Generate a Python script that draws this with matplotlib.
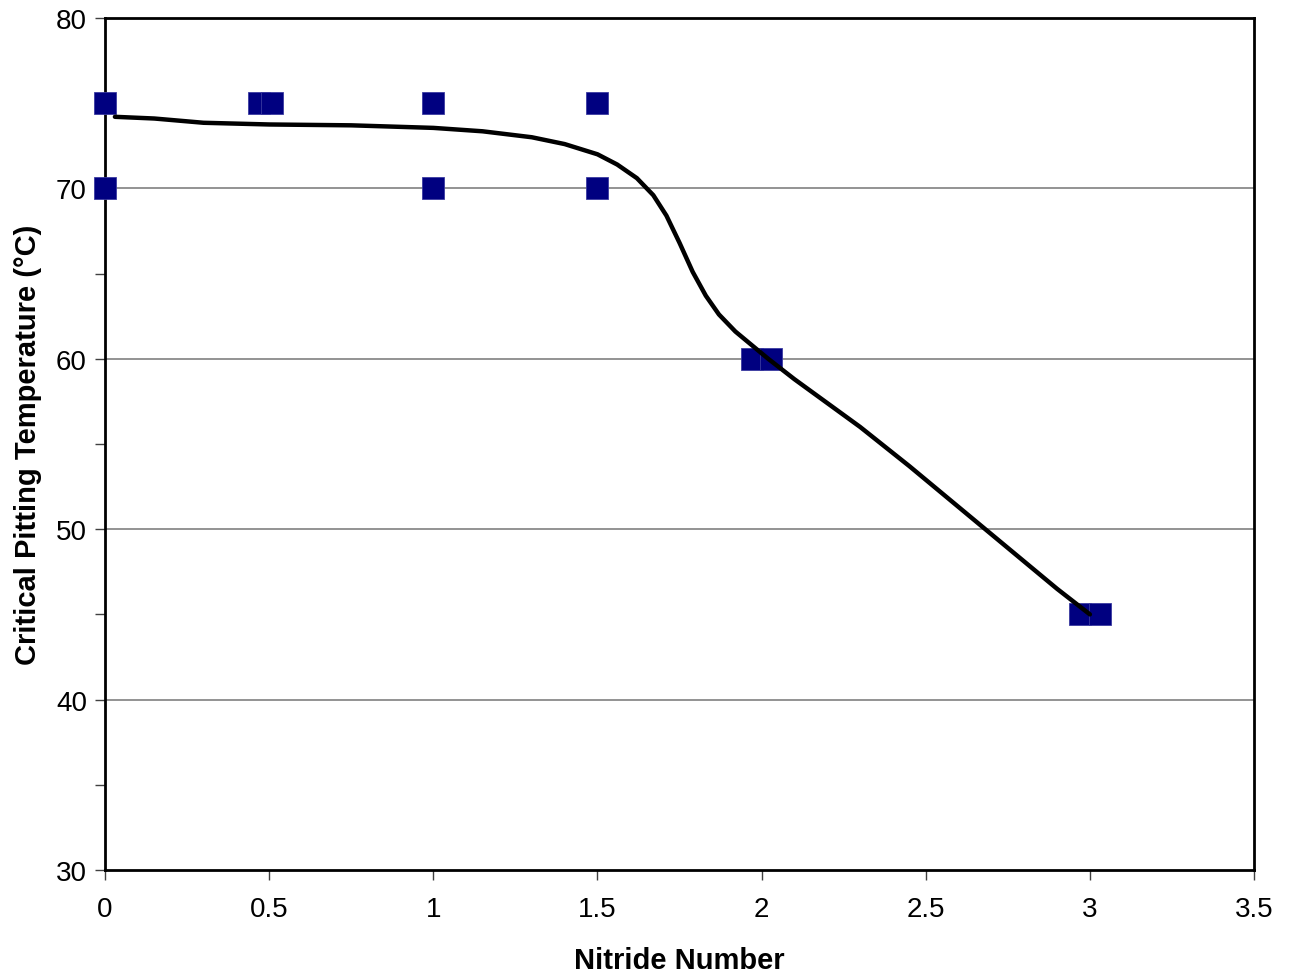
import numpy as np
import matplotlib.pyplot as plt
from matplotlib.ticker import MultipleLocator

plt.rcParams['font.family'] = ['Liberation Sans', 'DejaVu Sans']

# measured points (Nitride Number, CPT degC)
nitride = [0.0, 0.0, 0.47, 0.51, 1.0, 1.0, 1.5, 1.5, 1.97, 2.03, 2.97, 3.03]
cpt = [75, 70, 75, 75, 75, 70, 75, 70, 60, 60, 45, 45]

x_ticks = [0, 0.5, 1, 1.5, 2, 2.5, 3, 3.5]
x_labels = ['0', '0.5', '1', '1.5', '2', '2.5', '3', '3.5']

# trend curve
trend_x = [0.03, 0.15, 0.3, 0.5, 0.75, 1.0, 1.15, 1.3, 1.4, 1.5, 1.56, 1.62,
           1.67, 1.71, 1.75, 1.79, 1.83, 1.87, 1.92, 1.97, 2.02, 2.1, 2.2,
           2.3, 2.45, 2.6, 2.75, 2.9, 3.0]
trend_y = [74.2, 74.1, 73.85, 73.75, 73.7, 73.55, 73.35, 73.0, 72.6, 72.0, 71.4, 70.6,
           69.6, 68.4, 66.8, 65.1, 63.7, 62.6, 61.6, 60.8, 60.0, 58.8, 57.4,
           56.0, 53.7, 51.3, 48.9, 46.5, 45.0]

fig = plt.figure(figsize=(12.89, 9.78), dpi=100)
ax = fig.add_axes([0.0815, 0.1094, 0.8914, 0.8712])

ax.set_xlim(0, 3.5)
ax.set_ylim(30, 80)
ax.set_xticks(x_ticks)
ax.set_xticklabels(x_labels)
ax.yaxis.set_major_locator(MultipleLocator(10))
ax.yaxis.set_minor_locator(MultipleLocator(5))

for y in [40, 50, 60, 70]:
    ax.axhline(y, color='#808080', lw=1.2, zorder=1)

ax.plot(nitride, cpt, 's', color='#000080', markersize=16, markeredgewidth=0.6,
        markeredgecolor='#3a3aa0', linestyle='none', zorder=3, clip_on=False)
ax.plot(trend_x, trend_y, color='black', lw=3.2, solid_capstyle='round',
        solid_joinstyle='round', zorder=4)

for s in ax.spines.values():
    s.set_linewidth(2.0)

ax.tick_params(axis='both', which='major', direction='out', length=7, width=1,
               labelsize=20, color='#404040')
ax.tick_params(axis='x', which='major', pad=12)
ax.tick_params(axis='y', which='major', pad=6)
ax.tick_params(axis='y', which='minor', direction='out', length=7, width=1, color='#404040')

ax.set_xlabel('Nitride Number', fontsize=21, fontweight='bold', labelpad=17)
ax.set_ylabel('Critical Pitting Temperature (°C)', fontsize=21, fontweight='bold', labelpad=10)

fig.savefig('out.png', dpi=100)
